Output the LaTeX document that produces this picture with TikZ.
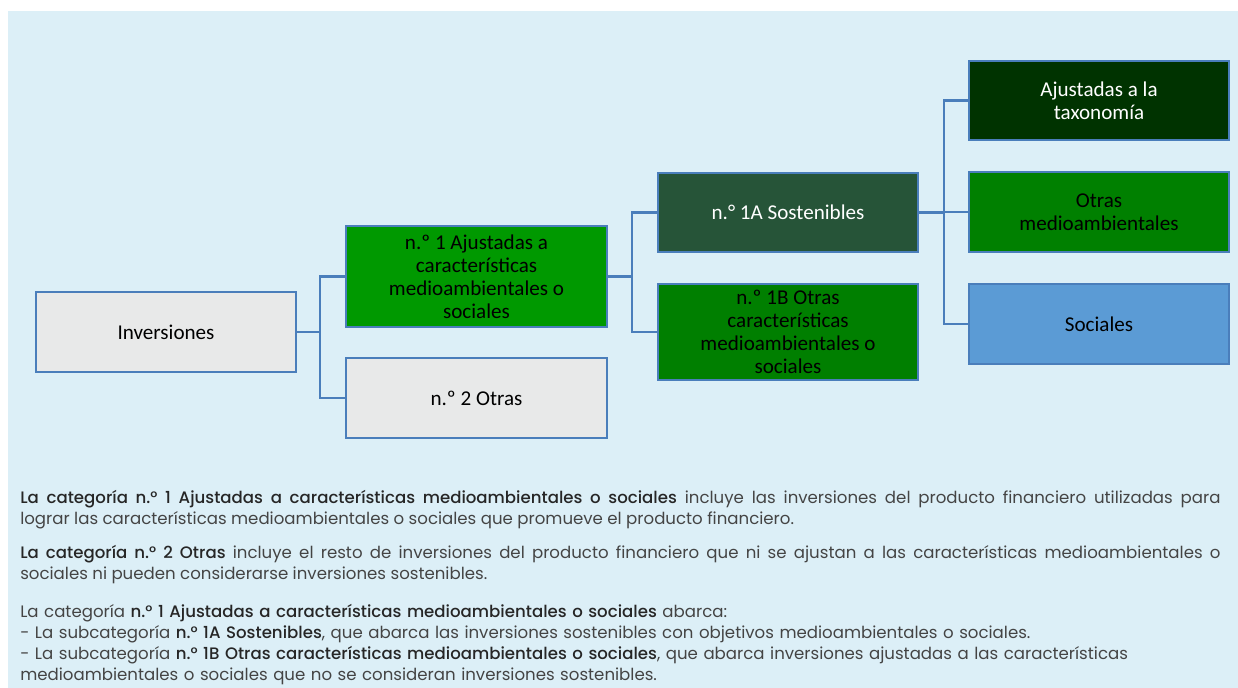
\documentclass[tikz,border=0pt]{standalone}
\usepackage{fontspec}
\setmainfont{Carlito}
\newfontfamily\textofont[BoldFont={Poppins Medium}]{Poppins}
\usetikzlibrary{positioning}
\definecolor{fondo}{HTML}{DCEFF7}
\definecolor{borde}{HTML}{4A7EBB}
\definecolor{gris}{HTML}{E8E9E9}
\definecolor{verdeA}{HTML}{009900}
\definecolor{verdeS}{HTML}{265438}
\definecolor{verdeB}{HTML}{007F00}
\definecolor{verdeT}{HTML}{003300}
\definecolor{verdeO}{HTML}{008000}
\definecolor{azulS}{HTML}{5B9BD5}
\definecolor{textoC}{HTML}{444444}
\newcommand{\nb}[1]{\textbf{\color{black!85}#1}}
\tikzset{
  caja/.style={rectangle, draw=borde, line width=1.4pt, fill=#1, align=center,
               font=\fontsize{15}{16.4}\selectfont, minimum width=6.5cm,
               minimum height=2cm, inner sep=0pt},
  conn/.style={draw=borde, line width=1.6pt},
  parrafo/.style={anchor=north west, inner sep=0pt, text width=30cm, text=textoC,
                  font=\textofont\fontsize{11.8}{14.9}\selectfont},
}
\begin{document}
\begin{tikzpicture}[x=0.025cm, y=-0.025cm]
    \useasboundingbox (0,0) rectangle (1238,688);
    \fill[fondo] (8,11) rectangle (1238,688);
    % Cajas
    \node[caja=gris] (inv) at (166,332) {Inversiones};
    \node[caja=verdeA, minimum width=6.525cm, minimum height=2.525cm] (cat1) at (476.5,276.5)
      {n.º 1 Ajustadas a\\características\\medioambientales o\\sociales};
    \node[caja=gris, minimum width=6.525cm] (cat2) at (476.5,398) {n.º 2 Otras};
    \node[caja=verdeS, text=white, minimum height=1.975cm] (sost) at (788,212.5) {n.° 1A Sostenibles};
    \node[caja=verdeB, minimum height=2.4cm] (otras) at (788,332)
      {n.º 1B Otras\\características\\medioambientales o\\sociales};
    \node[caja=verdeT, text=white, minimum height=1.975cm] (taxo) at (1099,100.5)
      {Ajustadas a la\\taxonomía};
    \node[caja=verdeO] (otrasma) at (1099,212) {Otras\\medioambientales};
    \node[caja=azulS] (soc) at (1099,324) {Sociales};
    % Conectores
    \coordinate (b1) at (320,332);
    \coordinate (b2) at (632,276.5);
    \coordinate (b3) at (944,212.5);
    \draw[conn] (inv.east) -- (b1);
    \draw[conn] (b1) |- (cat1.west); \draw[conn] (b1) |- (cat2.west);
    \draw[conn] (cat1.east) -- (b2);
    \draw[conn] (b2) |- (sost.west); \draw[conn] (b2) |- (otras.west);
    \draw[conn] (sost.east) -- (b3);
    \draw[conn] (b3) |- (taxo.west); \draw[conn] (b3) |- (otrasma.west);
    \draw[conn] (b3) |- (soc.west);
    % Texto explicativo
    \node[parrafo, align=justify] (p1) at (20,490)
      {\nb{La categoría n.° 1 Ajustadas a características medioambientales o sociales} incluye las inversiones del producto financiero utilizadas para\linebreak
       lograr las características medioambientales o sociales que promueve el producto financiero.};
    \node[parrafo, align=justify] (p2) at (20,545)
      {\nb{La categoría n.° 2 Otras} incluye el resto de inversiones del producto financiero que ni se ajustan a las características medioambientales o\linebreak
       sociales ni pueden considerarse inversiones sostenibles.};
    \node[parrafo, align=left] (p3) at (20,604)
      {La categoría \nb{n.° 1 Ajustadas a características medioambientales o sociales} abarca:\\
       - La subcategoría \nb{n.° 1A Sostenibles}, que abarca las inversiones sostenibles con objetivos medioambientales o sociales.\\
       - La subcategoría \nb{n.° 1B Otras características medioambientales o sociales}, que abarca inversiones ajustadas a las características\\
       medioambientales o sociales que no se consideran inversiones sostenibles.};
\end{tikzpicture}
\end{document}
